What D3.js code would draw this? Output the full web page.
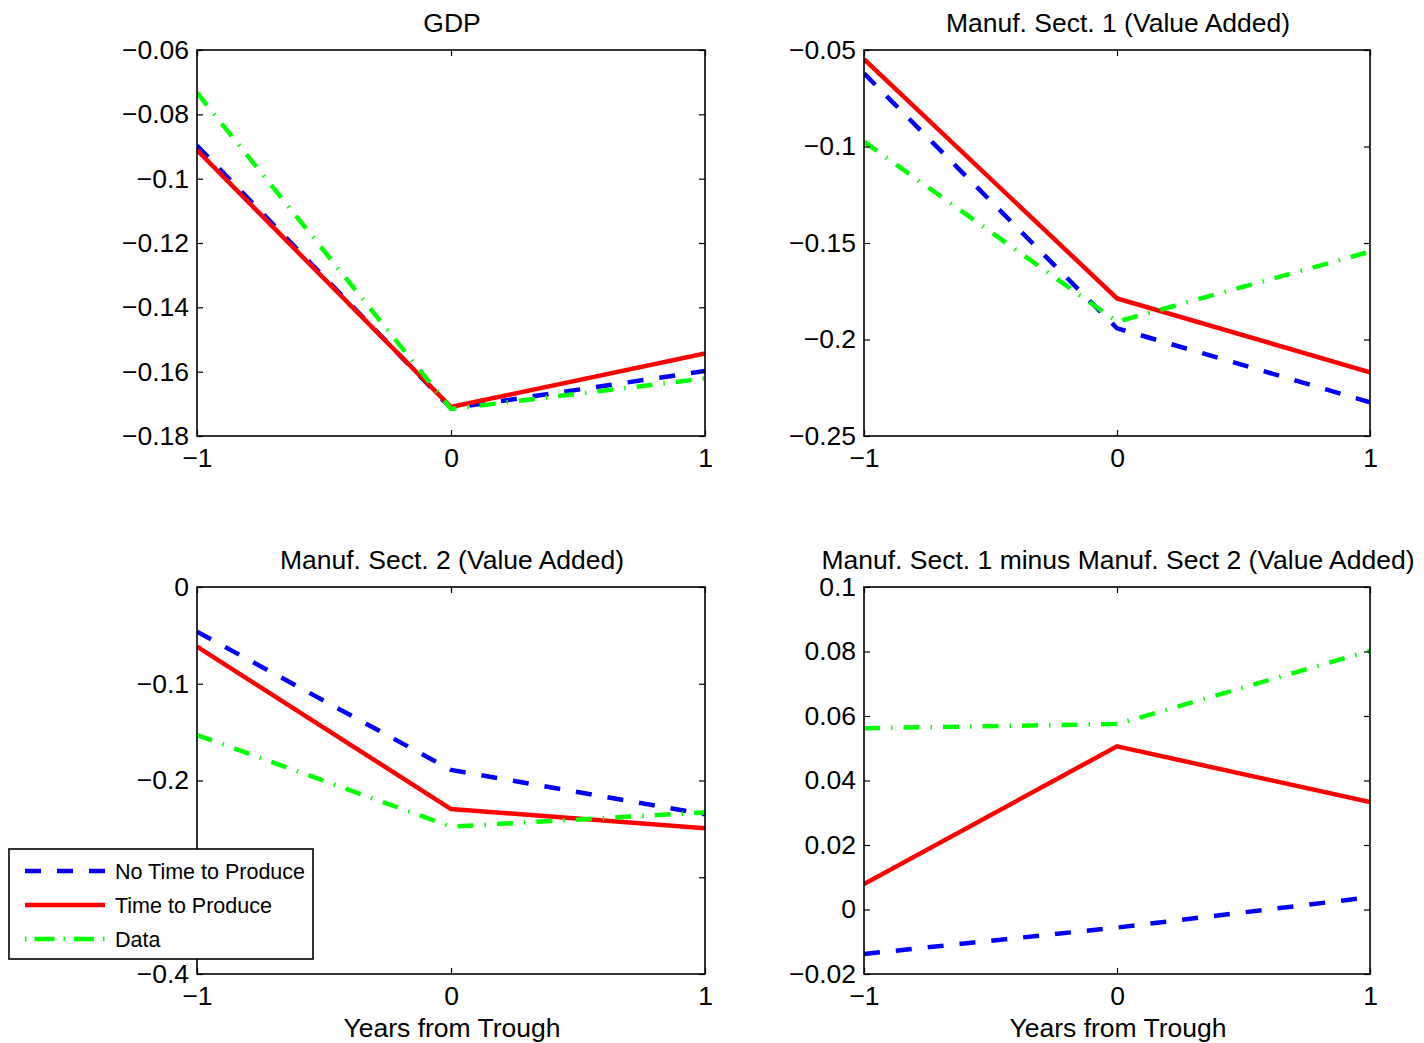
<!DOCTYPE html>
<html>
<head>
<meta charset="utf-8">
<script src="https://cdn.jsdelivr.net/npm/d3@7/dist/d3.min.js"></script>
<style>
  html, body { margin: 0; padding: 0; background: #fff; }
  svg { display: block; font-family: "Liberation Sans", Arial, Helvetica, sans-serif; }
</style>
</head>
<body>
<svg id="chart" width="1424" height="1043"></svg>
<script>
// ---------------- data ----------------
const years = [-1, 0, 1];
const xTickLabels = ["\u22121", "0", "1"];

const seriesNames = ["No Time to Produce", "Time to Produce", "Data"];

const gdpNoTTP = [-0.0897, -0.1714, -0.1598];
const gdpTTP   = [-0.0911, -0.1710, -0.1543];
const gdpData  = [-0.0733, -0.1716, -0.1621];

const s1NoTTP = [-0.0621, -0.1942, -0.2325];
const s1TTP   = [-0.0547, -0.1787, -0.2170];
const s1Data  = [-0.0975, -0.1908, -0.1545];

const s2NoTTP = [-0.0462, -0.1890, -0.2350];
const s2TTP   = [-0.0617, -0.2295, -0.2494];
const s2Data  = [-0.1530, -0.2477, -0.2330];

const diffNoTTP = [-0.0138, -0.0056, 0.0038];
const diffTTP   = [0.0079, 0.0506, 0.0333];
const diffData  = [0.0562, 0.0575, 0.0802];

const titles = [
  "GDP",
  "Manuf. Sect. 1 (Value Added)",
  "Manuf. Sect. 2 (Value Added)",
  "Manuf. Sect. 1 minus Manuf. Sect 2 (Value Added)"
];

const yTicks1 = [-0.18, -0.16, -0.14, -0.12, -0.1, -0.08, -0.06];
const yLabels1 = ["\u22120.18", "\u22120.16", "\u22120.14", "\u22120.12", "\u22120.1", "\u22120.08", "\u22120.06"];
const yTicks2 = [-0.25, -0.2, -0.15, -0.1, -0.05];
const yLabels2 = ["\u22120.25", "\u22120.2", "\u22120.15", "\u22120.1", "\u22120.05"];
const yTicks3 = [-0.4, -0.3, -0.2, -0.1, 0];
// the -0.3 label is hidden behind the legend in the reference
const yLabels3 = ["\u22120.4", "", "\u22120.2", "\u22120.1", "0"];
const yTicks4 = [-0.02, 0, 0.02, 0.04, 0.06, 0.08, 0.1];
const yLabels4 = ["\u22120.02", "0", "0.02", "0.04", "0.06", "0.08", "0.1"];

// ---------------- layout / style ----------------
const panels = [
  { title: titles[0], series: [gdpNoTTP, gdpTTP, gdpData], ticks: yTicks1, labels: yLabels1,
    box: { l: 197, r: 705, t: 50, b: 436 }, xlabel: false },
  { title: titles[1], series: [s1NoTTP, s1TTP, s1Data], ticks: yTicks2, labels: yLabels2,
    box: { l: 864, r: 1370, t: 50, b: 436 }, xlabel: false },
  { title: titles[2], series: [s2NoTTP, s2TTP, s2Data], ticks: yTicks3, labels: yLabels3,
    box: { l: 197, r: 705, t: 587, b: 974 }, xlabel: true },
  { title: titles[3], series: [diffNoTTP, diffTTP, diffData], ticks: yTicks4, labels: yLabels4,
    box: { l: 864, r: 1370, t: 587, b: 974 }, xlabel: true }
];

const styles = [
  { color: "#0000ff", dash: "16,16" },
  { color: "#ff0000", dash: null },
  { color: "#00ff00", dash: "16,11,1.5,11" }
];

const FS = 26.5;
const LW = 4.5;
const svg = d3.select("#chart");

panels.forEach((p, pi) => {
  const b = p.box;
  const x = d3.scaleLinear().domain(d3.extent(years)).range([b.l, b.r]);
  const y = d3.scaleLinear().domain(d3.extent(p.ticks)).range([b.b, b.t]);
  const g = svg.append("g");

  const clipId = "clip" + pi;
  g.append("clipPath").attr("id", clipId).append("rect")
    .attr("x", b.l).attr("y", b.t).attr("width", b.r - b.l).attr("height", b.b - b.t);

  const line = d3.line().x((d, i) => x(years[i])).y(d => y(d));
  p.series.forEach((s, si) => {
    g.append("path")
      .attr("clip-path", `url(#${clipId})`)
      .attr("d", line(s))
      .attr("fill", "none")
      .attr("stroke", styles[si].color)
      .attr("stroke-width", LW)
      .attr("stroke-dasharray", styles[si].dash)
      .attr("stroke-linejoin", "miter");
  });

  const tickLen = 6;
  const axL = g.append("g").attr("transform", `translate(${b.l},0)`)
    .call(d3.axisLeft(y).tickValues(p.ticks).tickSize(-tickLen).tickPadding(8)
      .tickFormat((d, i) => p.labels[i]));
  const axR = g.append("g").attr("transform", `translate(${b.r},0)`)
    .call(d3.axisRight(y).tickValues(p.ticks).tickSize(-tickLen).tickFormat(""));
  const axB = g.append("g").attr("transform", `translate(0,${b.b})`)
    .call(d3.axisBottom(x).tickValues(years).tickSize(-tickLen).tickPadding(12)
      .tickFormat((d, i) => xTickLabels[i]));
  const axT = g.append("g").attr("transform", `translate(0,${b.t})`)
    .call(d3.axisTop(x).tickValues(years).tickSize(-tickLen).tickFormat(""));

  [axL, axR, axB, axT].forEach(a => {
    a.select(".domain").remove();
    a.selectAll(".tick line").attr("stroke", "#000").attr("stroke-width", 1.2);
    a.selectAll("text").attr("font-size", FS).attr("fill", "#000")
      .attr("font-family", "'Liberation Sans', Arial, sans-serif");
  });

  g.append("rect").attr("x", b.l).attr("y", b.t)
    .attr("width", b.r - b.l).attr("height", b.b - b.t)
    .attr("fill", "none").attr("stroke", "#000").attr("stroke-width", 1.6);

  g.append("text").attr("x", (b.l + b.r) / 2 + 1).attr("y", b.t - 18)
    .attr("text-anchor", "middle").attr("font-size", FS).attr("fill", "#000")
    .text(p.title);

  if (p.xlabel) {
    g.append("text").attr("x", (b.l + b.r) / 2 + 1).attr("y", b.b + 63)
      .attr("text-anchor", "middle").attr("font-size", FS).attr("fill", "#000")
      .text("Years from Trough");
  }
});

// legend
const lg = svg.append("g");
lg.append("rect").attr("x", 9).attr("y", 849).attr("width", 304).attr("height", 110)
  .attr("fill", "#fff").attr("stroke", "#000").attr("stroke-width", 1.6);
const legY = d3.scalePoint().domain(seriesNames).range([871, 939]);
const legDash = ["16,16", null, "1.5,8,20,9,1.5,9,20,9,1.5"];
seriesNames.forEach((n, i) => {
  lg.append("line").attr("x1", 25).attr("x2", 105)
    .attr("y1", legY(n)).attr("y2", legY(n))
    .attr("stroke", styles[i].color).attr("stroke-width", LW)
    .attr("stroke-dasharray", legDash[i]);
  lg.append("text").attr("x", 115).attr("y", legY(n)).attr("dy", "0.36em")
    .attr("font-size", 21.5).attr("fill", "#000").text(n);
});
</script>
</body>
</html>
